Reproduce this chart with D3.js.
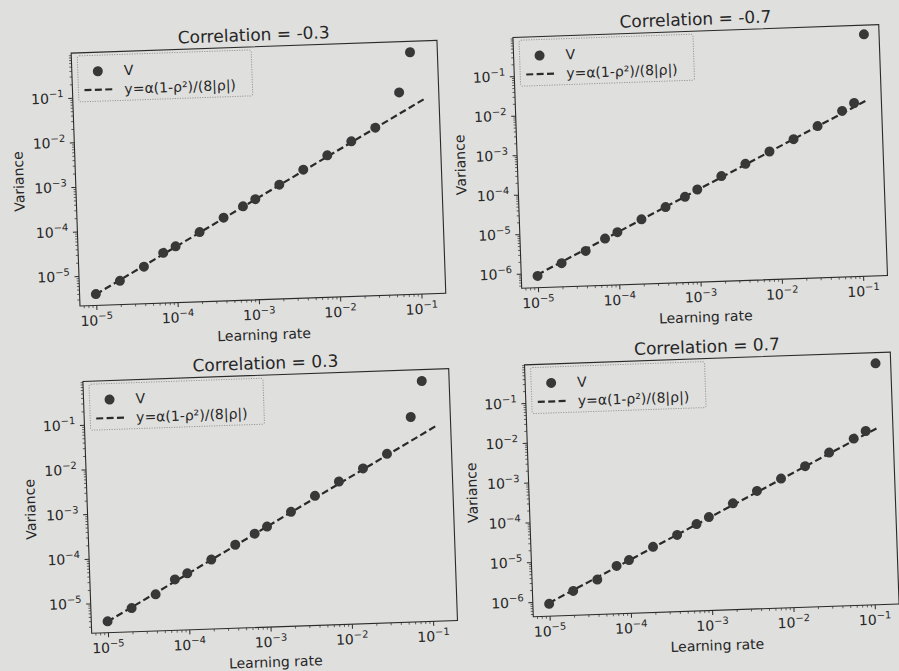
<!DOCTYPE html>
<html>
<head>
<meta charset="utf-8">
<script src="https://cdn.jsdelivr.net/npm/d3@7"></script>
<style>
  body { margin: 0; background: #dfdfdd; }
  svg { display: block; }
  text { font-family: "DejaVu Sans", sans-serif; fill: #262626; }
</style>
</head>
<body>
<svg id="chart" width="899" height="671"></svg>
<script>
// ---------------- data ----------------
const learningRates = [1e-5, 2e-5, 4e-5, 7e-5, 1e-4, 2e-4, 4e-4, 7e-4, 1e-3, 2e-3, 4e-3, 8e-3, 1.6e-2, 3.2e-2, 6.5e-2, 9.2e-2, 1.3e-1];

const titles = ["Correlation = -0.3", "Correlation = -0.7", "Correlation = 0.3", "Correlation = 0.7"];

// measured variance V (points); the -0.3 and 0.3 runs have no point at the largest rate
const varianceNeg03 = [3.85e-6, 7.3e-6, 1.45e-5, 2.85e-5, 3.9e-5, 7.8e-5, 1.57e-4, 2.72e-4, 3.85e-4, 7.8e-4, 1.62e-3, 3.25e-3, 6.4e-3, 1.24e-2, 7.3e-2, 0.57];
const varianceNeg07 = [8.5e-7, 1.7e-6, 3.3e-6, 6.5e-6, 9.2e-6, 1.85e-5, 3.6e-5, 6.3e-5, 9.4e-5, 1.95e-4, 3.8e-4, 7.4e-4, 1.45e-3, 2.95e-3, 6.8e-3, 1.05e-2, 0.56];
const variancePos03 = [3.85e-6, 7.3e-6, 1.42e-5, 2.95e-5, 3.95e-5, 7.7e-5, 1.58e-4, 2.7e-4, 3.8e-4, 7.8e-4, 1.7e-3, 3.4e-3, 6.4e-3, 1.3e-2, 8.3e-2, 0.52];
const variancePos07 = [8.7e-7, 1.75e-6, 3.2e-6, 6.8e-6, 9.3e-6, 1.9e-5, 3.6e-5, 6.5e-5, 9.5e-5, 2.0e-4, 3.9e-4, 7.6e-4, 1.48e-3, 3.1e-3, 6.6e-3, 1.0e-2, 0.49];

// theoretical line y = α(1-ρ²)/(8|ρ|), end points
const theoryRates = [1e-5, 1.3e-1];
const theoryNeg03 = [3.79e-6, 4.93e-2];
const theoryNeg07 = [9.11e-7, 1.18e-2];
const theoryPos03 = [3.79e-6, 4.93e-2];
const theoryPos07 = [9.11e-7, 1.18e-2];

// tick labels (exponents of 10)
const xTickExponents = [-5, -4, -3, -2, -1];
const yTickExponents03 = [-5, -4, -3, -2, -1];
const yTickExponents07 = [-6, -5, -4, -3, -2, -1];

const legendLabels = ["V", "y=α(1-ρ²)/(8|ρ|)"];
const xLabel = "Learning rate";
const yLabel = "Variance";

// ---------------- layout ----------------
const W = 366;
const panels = [
  { title: titles[0], v: varianceNeg03, t: theoryNeg03, yt: yTickExponents03, ox: 80,    oy: 306,   H: 253, yDom: [-5.67, 0.0] },
  { title: titles[1], v: varianceNeg07, t: theoryNeg07, yt: yTickExponents07, ox: 521.7, oy: 288.3, H: 251, yDom: [-6.37, -0.02] },
  { title: titles[2], v: variancePos03, t: theoryPos03, yt: yTickExponents03, ox: 91.7,  oy: 633.3, H: 252, yDom: [-5.67, -0.03] },
  { title: titles[3], v: variancePos07, t: theoryPos07, yt: yTickExponents07, ox: 533.3, oy: 616.7, H: 252, yDom: [-6.37, -0.04] }
];

const ink = "#2a2a2a";
const svg = d3.select("#chart");

function minorTicks(lo, hi) {
  const out = [];
  for (let e = Math.floor(lo); e <= Math.ceil(hi); e++) {
    for (let m = 2; m <= 9; m++) {
      const v = m * Math.pow(10, e);
      const l = Math.log10(v);
      if (l > lo && l < hi) out.push(v);
    }
  }
  return out;
}

function powLabel(sel, exp, anchor) {
  const t = sel.append("text").attr("text-anchor", anchor);
  t.append("tspan").attr("font-size", 14).text("10");
  t.append("tspan").attr("font-size", 10).attr("dy", -6).text("\u2212" + Math.abs(exp));
  return t;
}

panels.forEach(p => {
  const H = p.H;
  const g = svg.append("g").attr("transform", `translate(${p.ox},${p.oy}) rotate(-2)`);
  const xDom = [-5.2, -0.7];
  const x = d3.scaleLog().domain([Math.pow(10, xDom[0]), Math.pow(10, xDom[1])]).range([0, W]);
  const y = d3.scaleLog().domain([Math.pow(10, p.yDom[0]), Math.pow(10, p.yDom[1])]).range([0, -H]);

  // minor ticks
  g.append("g").call(d3.axisBottom(x).tickValues(minorTicks(xDom[0], xDom[1])).tickSize(2.4).tickFormat(""))
    .call(a => a.select(".domain").remove())
    .selectAll("line").attr("stroke", ink).attr("stroke-width", 0.7);
  g.append("g").attr("transform", `translate(0,${-H})`)
    .call(d3.axisLeft(y.copy().range([H, 0])).tickValues(minorTicks(p.yDom[0], p.yDom[1])).tickSize(2.4).tickFormat(""))
    .call(a => a.select(".domain").remove())
    .selectAll("line").attr("stroke", ink).attr("stroke-width", 0.7);

  // major ticks
  g.append("g").call(d3.axisBottom(x).tickValues(xTickExponents.map(e => Math.pow(10, e))).tickSize(4.5).tickFormat(""))
    .call(a => a.select(".domain").remove())
    .selectAll("line").attr("stroke", ink).attr("stroke-width", 1);
  g.append("g").attr("transform", `translate(0,${-H})`)
    .call(d3.axisLeft(y.copy().range([H, 0])).tickValues(p.yt.map(e => Math.pow(10, e))).tickSize(4.5).tickFormat(""))
    .call(a => a.select(".domain").remove())
    .selectAll("line").attr("stroke", ink).attr("stroke-width", 1);

  // tick labels
  xTickExponents.forEach(e => {
    powLabel(g, e, "middle").attr("x", x(Math.pow(10, e))).attr("y", 20);
  });
  p.yt.forEach(e => {
    powLabel(g, e, "end").attr("x", -9).attr("y", y(Math.pow(10, e)) + 5);
  });

  // axes frame
  g.append("rect").attr("x", 0).attr("y", -H).attr("width", W).attr("height", H)
    .attr("fill", "none").attr("stroke", ink).attr("stroke-width", 1.1);

  // theory line
  const line = d3.line().x(d => x(d[0])).y(d => y(d[1]));
  g.append("path").datum(theoryRates.map((r, i) => [r, p.t[i]]))
    .attr("d", line).attr("fill", "none").attr("stroke", ink)
    .attr("stroke-width", 2.2).attr("stroke-dasharray", "7,3.4");

  // points
  g.selectAll("circle.pt").data(p.v).enter().append("circle").attr("class", "pt")
    .attr("cx", (d, i) => x(learningRates[i])).attr("cy", d => y(d))
    .attr("r", 5).attr("fill", "#383838");

  // title & axis labels
  g.append("text").attr("x", W / 2).attr("y", -H - 6).attr("text-anchor", "middle")
    .attr("font-size", 17).text(p.title);
  g.append("text").attr("x", W / 2).attr("y", 40).attr("text-anchor", "middle")
    .attr("font-size", 14).text(xLabel);
  g.append("text").attr("transform", `translate(-52,${-H / 2}) rotate(-90)`)
    .attr("text-anchor", "middle").attr("font-size", 14).text(yLabel);

  // legend
  const lg = g.append("g").attr("transform", `translate(6,${-H + 3})`);
  lg.append("rect").attr("width", 174).attr("height", 46).attr("rx", 2)
    .attr("fill", "none").attr("stroke", "#999").attr("stroke-width", 1)
    .attr("stroke-dasharray", "1.2,1.3");
  lg.append("circle").attr("cx", 20).attr("cy", 16).attr("r", 5).attr("fill", "#383838");
  lg.append("text").attr("x", 46).attr("y", 21).attr("font-size", 14).text(legendLabels[0]);
  lg.append("line").attr("x1", 6).attr("x2", 37).attr("y1", 34.5).attr("y2", 34.5)
    .attr("stroke", ink).attr("stroke-width", 2.2).attr("stroke-dasharray", "7,3.4");
  lg.append("text").attr("x", 46).attr("y", 39.5).attr("font-size", 14).text(legendLabels[1]);
});
</script>
</body>
</html>
